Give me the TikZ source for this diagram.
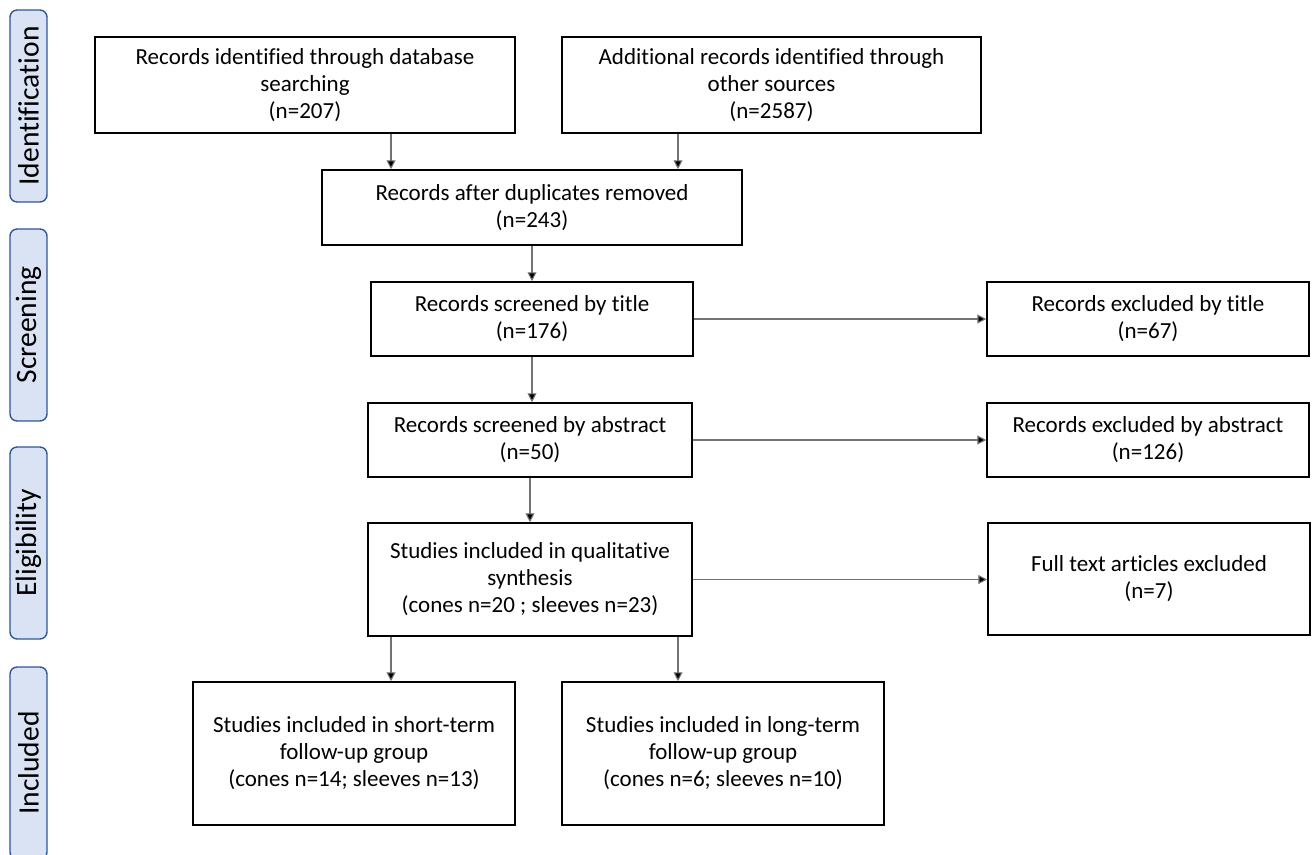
\documentclass[tikz,border=0pt]{standalone}
\usepackage{fontspec}
\setmainfont{Carlito}[Ligatures=NoCommon]
\usepackage{xcolor}
\usetikzlibrary{arrows.meta}

\definecolor{phasefill}{HTML}{DAE3F3}
\definecolor{phaseline}{HTML}{2F5597}

\tikzset{
  box/.style={draw=black, line width=0.9pt, align=center, inner sep=0pt,
              font=\fontsize{13.1}{15.4}\selectfont},
  phase/.style={draw=phaseline, fill=phasefill, line width=0.8pt, rounded corners=4pt,
                minimum width=3.84cm, minimum height=0.74cm, inner sep=0pt,
                rotate=90, font=\fontsize{16.8}{18}\selectfont},
  arr/.style={draw=black!55, line width=0.6pt, -{Triangle[length=5pt,width=5pt,fill=black]}}
}

\begin{document}
\begin{tikzpicture}[x=0.02cm, y=-0.02cm]

\useasboundingbox (0,0) rectangle (1312,855);

% phases
\node[phase] (ident) at (28.5,106) {Identification};
\node[phase] (screen) at (28.5,325) {Screening};
\node[phase] (elig) at (28.5,543) {Eligibility};
\node[phase] (incl) at (28.5,763) {Included};

% identification
\node[box, minimum width=8.4cm, minimum height=1.92cm] (db) at (305,85)
  {Records identified through database\\searching\\(n=207)};
\node[box, minimum width=8.38cm, minimum height=1.92cm] (other) at (771.5,85)
  {Additional records identified through\\other sources\\(n=2587)};
\node[box, minimum width=8.4cm, minimum height=1.5cm] (dup) at (532,207.5)
  {Records after duplicates removed\\(n=243)};

% screening
\node[box, minimum width=6.44cm, minimum height=1.48cm] (title) at (532,319)
  {Records screened by title\\(n=176)};
\node[box, minimum width=6.44cm, minimum height=1.48cm] (extitle) at (1148,319)
  {Records excluded by title\\(n=67)};
\node[box, minimum width=6.48cm, minimum height=1.48cm] (abstract) at (530,440)
  {Records screened by abstract\\(n=50)};
\node[box, minimum width=6.44cm, minimum height=1.48cm] (exabstract) at (1148,440)
  {Records excluded by abstract\\(n=126)};

% eligibility
\node[box, minimum width=6.48cm, minimum height=2.26cm] (qual) at (530,579.5)
  {Studies included in qualitative\\synthesis\\(cones n=20 ; sleeves n=23)};
\node[box, minimum width=6.44cm, minimum height=2.24cm] (fulltext) at (1149,579)
  {Full text articles excluded\\(n=7)};

% included
\node[box, minimum width=6.44cm, minimum height=2.86cm] (short) at (354,753.5)
  {Studies included in short-term\\follow-up group\\(cones n=14; sleeves n=13)};
\node[box, minimum width=6.44cm, minimum height=2.86cm] (long) at (723,753.5)
  {Studies included in long-term\\follow-up group\\(cones n=6; sleeves n=10)};

% arrows
\draw[arr] (db.south -| 391,0) -- (dup.north -| 391,0);
\draw[arr] (other.south -| 678,0) -- (dup.north -| 678,0);
\draw[arr] (dup) -- (title);
\draw[arr] (title.south) -- (abstract.north -| title.south);
\draw[arr] (abstract) -- (qual);
\draw[arr] (title) -- (extitle);
\draw[arr] (abstract) -- (exabstract);
\draw[arr] (qual.east) -- (fulltext.west |- qual.east);
\draw[arr] (qual.south -| 391,0) -- (short.north -| 391,0);
\draw[arr] (qual.south -| 678,0) -- (long.north -| 678,0);

\end{tikzpicture}
\end{document}
